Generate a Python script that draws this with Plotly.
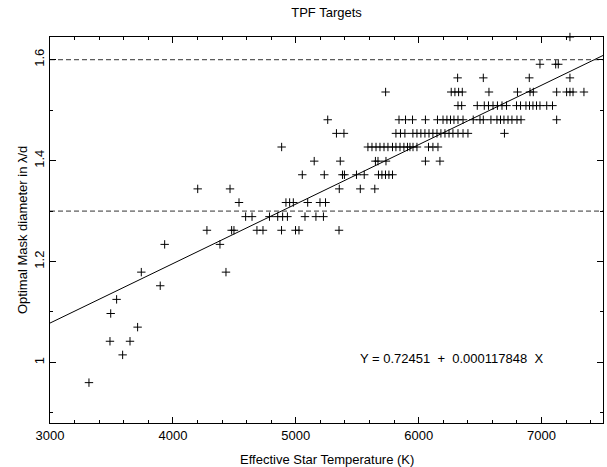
import plotly.graph_objects as go

# Effective temperature (K) of each target and its optimal mask diameter (lambda/d)
teff = [
    7231,
    6987, 7115, 7136,
    6317, 6526, 6900, 7231,
    5731, 6265, 6295, 6325, 6355, 6572, 6804, 6906, 6933, 7123, 7204, 7231, 7256, 7345,
    6320, 6350, 6477, 6534, 6568, 6605, 6641, 6678, 6715, 6796, 6829, 6873, 6902, 6930,
    6959, 6987, 7042, 7089,
    5260, 5840, 5893, 5950, 6055, 6153, 6198, 6230, 6259, 6287, 6320, 6361, 6444, 6499,
    6526, 6588, 6637, 6666, 6694, 6727, 6759, 6800, 6833, 7123,
    5331, 5392, 5815, 5852, 5888, 5953, 5986, 6018, 6051, 6084, 6116, 6149, 6181, 6214,
    6247, 6279, 6320, 6361, 6401, 6698,
    4885, 5587, 5620, 5653, 5685, 5718, 5750, 5787, 5815, 5848, 5880, 5909, 5929, 5954,
    5986, 6080, 6116, 6157,
    5150, 5362, 5648, 5669, 5734, 6055, 6173,
    5053, 5232, 5380, 5396, 5494, 5557, 5673, 5701, 5730, 5758, 5787,
    4202, 4465, 5354, 5525, 5643,
    4538, 4920, 4950, 4980, 5097, 5197, 5242,
    4592, 4644, 4786, 4853, 4893, 4932, 5075, 5164, 5225,
    4277, 4478, 4497, 4684, 4733, 4884, 4998, 5026, 5352,
    3933, 4383,
    3743, 4432,
    3897,
    3542,
    3494,
    3713,
    3488, 3651,
    3591,
    3317,
]

diameter = (
    [1.645] * 1
    + [1.591] * 3
    + [1.564] * 4
    + [1.536] * 14
    + [1.509] * 18
    + [1.481] * 24
    + [1.454] * 20
    + [1.427] * 18
    + [1.399] * 7
    + [1.372] * 11
    + [1.344] * 5
    + [1.317] * 7
    + [1.289] * 9
    + [1.262] * 9
    + [1.234] * 2
    + [1.179] * 2
    + [1.152] * 1
    + [1.125] * 1
    + [1.097] * 1
    + [1.070] * 1
    + [1.042] * 2
    + [1.015] * 1
    + [0.960] * 1
)

# Linear fit Y = a + b X
fit_a = 0.72451
fit_b = 0.000117848

# Reference levels drawn as dashed lines
levels = [1.3, 1.6]

x_range = [3000, 7500]
y_range = [0.88, 1.645]

FONT = "Liberation Sans, Arial, sans-serif"
BLACK = "black"

fig = go.Figure()

fig.add_trace(go.Scatter(
    x=teff, y=diameter, mode="markers",
    marker=dict(symbol="cross-thin", size=6, line=dict(color=BLACK, width=1)),
    cliponaxis=False, showlegend=False, hoverinfo="x+y",
))

fig.add_trace(go.Scatter(
    x=x_range, y=[fit_a + fit_b * v for v in x_range], mode="lines",
    line=dict(color=BLACK, width=1), showlegend=False,
))

for lv in levels:
    fig.add_trace(go.Scatter(
        x=x_range, y=[lv, lv], mode="lines",
        line=dict(color="#333333", width=1, dash="5px,3px"), showlegend=False,
    ))

# invisible trace that activates the mirrored top/right axes
fig.add_trace(go.Scatter(x=[None], y=[None], xaxis="x2", yaxis="y2",
                         showlegend=False, hoverinfo="skip"))

tick_common = dict(
    showgrid=False, zeroline=False, showline=True, linecolor=BLACK, linewidth=1,
    ticks="inside", ticklen=6, tickcolor=BLACK, tickwidth=1,
    tickfont=dict(family=FONT, size=13, color=BLACK),
)
x_minor = dict(dtick=200, ticks="inside", ticklen=3, tickcolor=BLACK, tickwidth=1)
y_minor = dict(dtick=0.1, ticks="inside", ticklen=3, tickcolor=BLACK, tickwidth=1)

plot_w = 607 - 50 - 4
plot_h = 467 - 37 - 44

fig.update_layout(
    width=607, height=467,
    margin=dict(l=50, r=4, t=37, b=44),
    paper_bgcolor="white", plot_bgcolor="white",
    font=dict(family=FONT, size=13, color=BLACK),
    xaxis=dict(range=x_range, tick0=3000, dtick=1000, minor=x_minor, **tick_common),
    yaxis=dict(range=y_range, tick0=1.0, dtick=0.2, tickangle=-90, minor=y_minor,
               **tick_common),
    xaxis2=dict(range=x_range, tick0=3000, dtick=1000, minor=x_minor, overlaying="x",
                side="top", showticklabels=False, **tick_common),
    yaxis2=dict(range=y_range, tick0=1.0, dtick=0.2, minor=y_minor, overlaying="y",
                side="right", showticklabels=False, **tick_common),
    title=dict(text="TPF Targets", x=0.5, xref="paper", xanchor="center",
               y=1 - 12 / 467, yref="container", yanchor="middle",
               font=dict(family=FONT, size=13, color=BLACK)),
    annotations=[
        dict(text="Effective Star Temperature (K)", xref="paper", yref="paper",
             x=0.5, y=(423 - 460) / plot_h, xanchor="center", yanchor="middle",
             showarrow=False, font=dict(family=FONT, size=13, color=BLACK)),
        dict(text="Optimal Mask diameter in λ/d", xref="paper", yref="paper",
             x=(22 - 50) / plot_w, y=0.5, xanchor="center", yanchor="middle",
             textangle=-90, showarrow=False,
             font=dict(family=FONT, size=13, color=BLACK)),
        dict(text=f"Y = {fit_a}  +  {fit_b:.9f}  X",
             xref="x", yref="y", x=5506, y=1.008, xanchor="left", yanchor="middle",
             showarrow=False, font=dict(family=FONT, size=13, color=BLACK)),
    ],
)

fig.write_html("out.html")
